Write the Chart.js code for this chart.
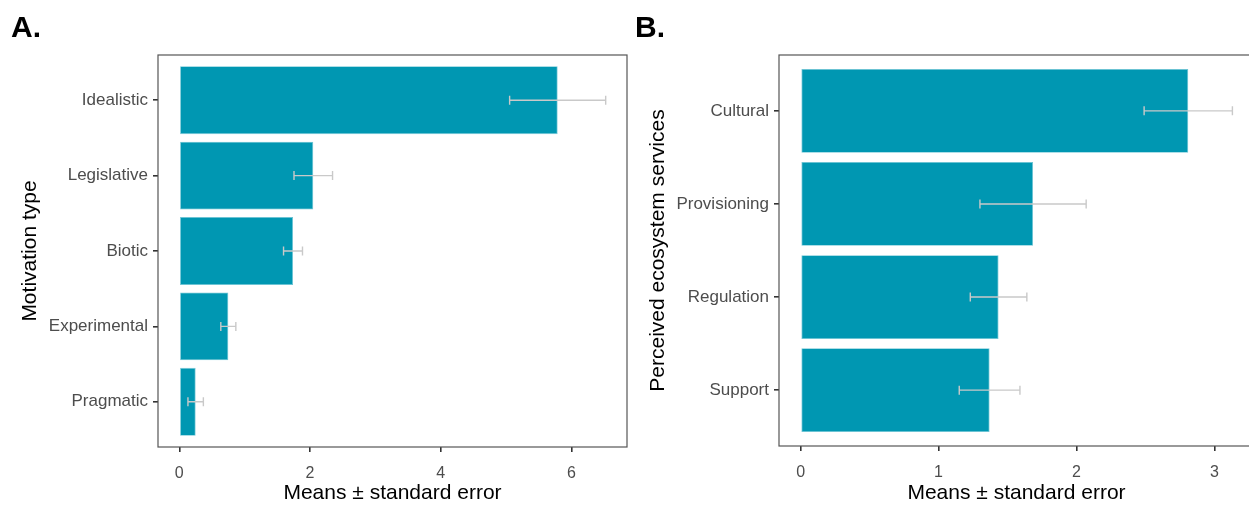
<!DOCTYPE html>
<html><head><meta charset="utf-8">
<script src="https://cdn.jsdelivr.net/npm/chart.js@4.4.1/dist/chart.umd.min.js"></script>
<style>
html,body{margin:0;padding:0;background:#fff;overflow:hidden;width:1249px;height:506px;position:relative;}
.wrap{position:absolute;top:0;height:506px;}
#wa{left:0;width:640px;}
#wb{left:624px;width:640px;}
canvas{display:block;}
</style></head><body>
<div class="wrap" id="wa"><canvas id="ca" width="640" height="506"></canvas></div>
<div class="wrap" id="wb"><canvas id="cb" width="640" height="506"></canvas></div>
<script>
// Panel A data
const motivationTypes = ['Idealistic', 'Legislative', 'Biotic', 'Experimental', 'Pragmatic'];
const motivationMeans = [5.79, 2.05, 1.74, 0.75, 0.25];
const motivationSE = [0.735, 0.295, 0.145, 0.115, 0.118];
const motivationTicks = [0, 2, 4, 6];

// Panel B data
const serviceTypes = ['Cultural', 'Provisioning', 'Regulation', 'Support'];
const serviceMeans = [2.81, 1.685, 1.435, 1.37];
const serviceSE = [0.32, 0.385, 0.205, 0.22];
const serviceTicks = [0, 1, 2, 3];

const FONT = '"Liberation Sans", Arial, Helvetica, sans-serif';

function extrasPlugin(panelLabel, means, se) {
  return {
    id: 'extras' + panelLabel,
    afterDatasetsDraw(chart) {
      const ctx = chart.ctx, a = chart.chartArea, x = chart.scales.x, y = chart.scales.y;
      ctx.save();
      ctx.strokeStyle = '#c9c9c9';
      ctx.lineWidth = 1.4;
      means.forEach((m, i) => {
        const x0 = x.getPixelForValue(m - se[i]);
        const x1 = x.getPixelForValue(m + se[i]);
        const yc = y.getPixelForValue(i);
        ctx.beginPath();
        ctx.moveTo(x0, yc); ctx.lineTo(x1, yc);
        ctx.moveTo(x0, yc - 4.5); ctx.lineTo(x0, yc + 4.5);
        ctx.moveTo(x1, yc - 4.5); ctx.lineTo(x1, yc + 4.5);
        ctx.stroke();
      });
      ctx.strokeStyle = '#555555';
      ctx.lineWidth = 1.2;
      ctx.strokeRect(a.left, a.top, a.right - a.left, a.bottom - a.top);
      ctx.fillStyle = '#000';
      ctx.font = 'bold 30px ' + FONT;
      ctx.textBaseline = 'alphabetic';
      ctx.textAlign = 'left';
      ctx.fillText(panelLabel, 11, 37);
      ctx.restore();
    }
  };
}

function build(canvasId, panelLabel, cats, means, se, ticks, yTitle, geom) {
  const hi = Math.max(...means.map((m, i) => m + se[i]));
  const xmin = -0.05 * hi, xmax = hi * 1.05;
  new Chart(document.getElementById(canvasId), {
    type: 'bar',
    data: {
      datasets: [{
        data: means.map((m, i) => ({ x: m, y: i })),
        backgroundColor: '#0097b2',
        borderColor: '#6cc4d4',
        borderWidth: 0.8,
        borderSkipped: false,
        barPercentage: 0.9,
        categoryPercentage: 1
      }]
    },
    options: {
      indexAxis: 'y',
      responsive: false,
      animation: false,
      devicePixelRatio: 1,
      layout: { padding: { top: geom.top, right: geom.right, left: 0, bottom: 0 } },
      plugins: { legend: { display: false }, tooltip: { enabled: false } },
      scales: {
        x: {
          type: 'linear', min: xmin, max: xmax, offset: false,
          afterBuildTicks: s => { s.ticks = ticks.map(v => ({ value: v })); },
          afterFit: s => { s.height = geom.xh; },
          grid: { drawOnChartArea: false, offset: false, tickLength: 5, color: '#333333', lineWidth: 1.6 },
          border: { display: false },
          ticks: { color: '#4d4d4d', font: { family: FONT, size: 16 }, padding: 12, maxRotation: 0 },
          title: { display: true, text: 'Means ± standard error', color: '#000', font: { family: FONT, size: 21 }, padding: { top: 0, bottom: 0 } }
        },
        y: {
          type: 'linear', reverse: true, min: -0.6, max: cats.length - 0.4, offset: false,
          afterBuildTicks: s => { s.ticks = cats.map((c, i) => ({ value: i })); },
          afterFit: s => { s.width = geom.yw; },
          grid: { drawOnChartArea: false, offset: false, tickLength: 5, color: '#333333', lineWidth: 1.6 },
          border: { display: false },
          ticks: { color: '#4d4d4d', font: { family: FONT, size: 17 }, padding: 5, callback: v => cats[v] },
          title: { display: true, text: yTitle, color: '#000', font: { family: FONT, size: 21 }, padding: { top: geom.ytp, bottom: 0 } }
        }
      }
    },
    plugins: [extrasPlugin(panelLabel, means, se)]
  });
}

build('ca', 'A.', motivationTypes, motivationMeans, motivationSE, motivationTicks, 'Motivation type',
  { top: 55, right: 13, xh: 59, yw: 158, ytp: 18 });
build('cb', 'B.', serviceTypes, serviceMeans, serviceSE, serviceTicks, 'Perceived ecosystem services',
  { top: 55, right: 10, xh: 60, yw: 155, ytp: 22 });
</script>
</body></html>
